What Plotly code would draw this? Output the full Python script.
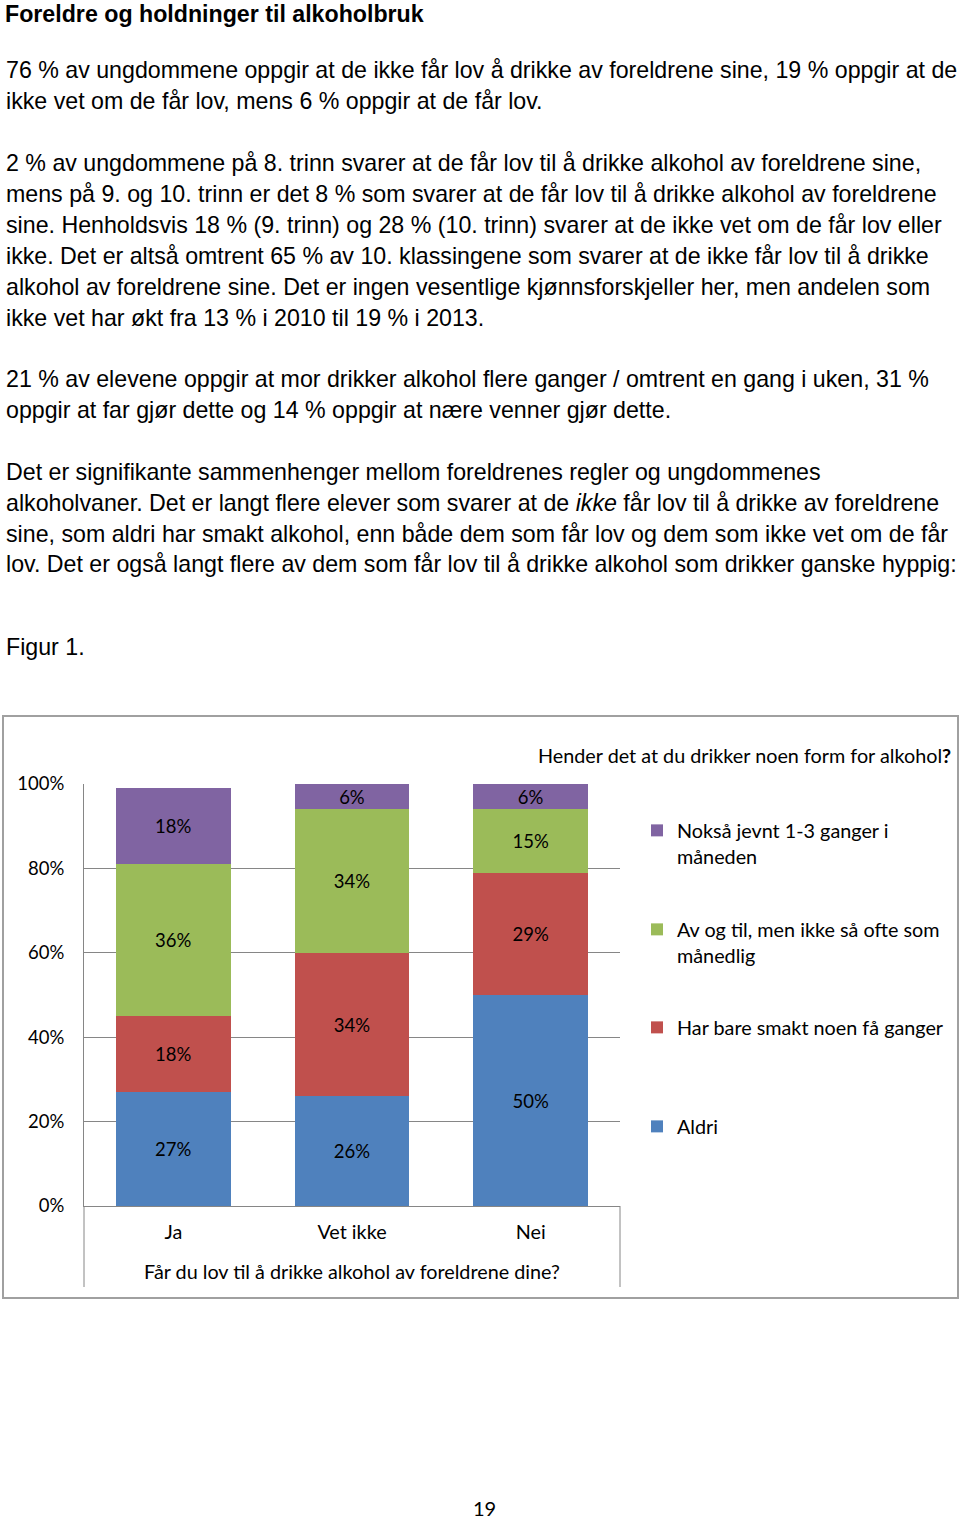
import plotly.graph_objects as go

W, H = 960, 1521

categories = ["Ja", "Vet ikke", "Nei"]
series_names = [
    "Aldri",
    "Har bare smakt noen få ganger",
    "Av og til, men ikke så ofte som<br>månedlig",
    "Nokså jevnt 1-3 ganger i<br>måneden",
]
aldri = [27, 26, 50]
har_bare = [18, 34, 29]
av_og_til = [36, 34, 15]
noksaa = [18, 6, 6]
series_values = [aldri, har_bare, av_og_til, noksaa]
colors = ["#4F81BD", "#C0504D", "#9BBB59", "#8064A2"]
y_ticks = [0, 0.2, 0.4, 0.6, 0.8, 1.0]

chart_title = "Hender det at du drikker noen form for alkohol<b>?</b>"
x_title = "Får du lov til å drikke alkohol av foreldrene dine?"

page_title = "Foreldre og holdninger til alkoholbruk"
body_lines = [
    (70, "76 % av ungdommene oppgir at de ikke får lov å drikke av foreldrene sine, 19 % oppgir at de"),
    (101, "ikke vet om de får lov, mens 6 % oppgir at de får lov."),
    (163, "2 % av ungdommene på 8. trinn svarer at de får lov til å drikke alkohol av foreldrene sine,"),
    (194, "mens på 9. og 10. trinn er det 8 % som svarer at de får lov til å drikke alkohol av foreldrene"),
    (225, "sine. Henholdsvis 18 % (9. trinn) og 28 % (10. trinn) svarer at de ikke vet om de får lov eller"),
    (256, "ikke. Det er altså omtrent 65 % av 10. klassingene som svarer at de ikke får lov til å drikke"),
    (287, "alkohol av foreldrene sine. Det er ingen vesentlige kjønnsforskjeller her, men andelen som"),
    (318, "ikke vet har økt fra 13 % i 2010 til 19 % i 2013."),
    (379, "21 % av elevene oppgir at mor drikker alkohol flere ganger / omtrent en gang i uken, 31 %"),
    (410, "oppgir at far gjør dette og 14 % oppgir at nære venner gjør dette."),
    (472, "Det er signifikante sammenhenger mellom foreldrenes regler og ungdommenes"),
    (503, "alkoholvaner. Det er langt flere elever som svarer at de <i>ikke</i> får lov til å drikke av foreldrene"),
    (534, "sine, som aldri har smakt alkohol, enn både dem som får lov og dem som ikke vet om de får"),
    (564, "lov. Det er også langt flere av dem som får lov til å drikke alkohol som drikker ganske hyppig:"),
    (647, "Figur 1."),
]
page_number = "19"


def px(x):
    return x / W


def py(y):
    return 1 - y / H


BODY_FONT = "Liberation Sans, Arial, sans-serif"
CHART_FONT = "Lato, Open Sans, sans-serif"
BODY_SIZE = 23.2
CHART_SIZE = 19.8
NUM_SIZE = 18.5

fig = go.Figure()
legend_names = ["legend4", "legend3", "legend2", "legend"]
for name, vals, col, lg in zip(series_names, series_values, colors, legend_names):
    fig.add_trace(go.Bar(
        x=categories,
        y=[v / 100 for v in vals],
        name=name,
        marker=dict(color=col, line=dict(width=0)),
        text=[f"{v}%" for v in vals],
        textposition="inside",
        insidetextanchor="middle",
        constraintext="none",
        textfont=dict(family=CHART_FONT, size=NUM_SIZE, color="#000000"),
        hoverinfo="skip",
        legend=lg,
    ))

plot_l, plot_r = 84, 620
y0px, y100px = 1206, 784

legend_common = dict(
    xanchor="left", yanchor="top", valign="top",
    font=dict(family=CHART_FONT, size=CHART_SIZE, color="#000000"),
    bgcolor="rgba(0,0,0,0)", borderwidth=0, tracegroupgap=0,
)
legend_tops = {"legend": 811, "legend2": 910, "legend3": 1008, "legend4": 1107}

layout_legends = {}
for lg, top in legend_tops.items():
    layout_legends[lg] = dict(x=px(637), y=py(top), **legend_common)

fig.update_layout(
    width=W, height=H, autosize=False,
    margin=dict(l=0, r=0, t=0, b=0, pad=0, autoexpand=False),
    paper_bgcolor="white", plot_bgcolor="white",
    barmode="stack", bargap=0.36,
    showlegend=True,
    **layout_legends,
    xaxis=dict(
        domain=[px(plot_l), px(plot_r)],
        showgrid=False, showline=True, linecolor="#868686", linewidth=1,
        ticks="", ticklabelstandoff=8,
        tickfont=dict(family=CHART_FONT, size=CHART_SIZE, color="#000000"),
        title=dict(text=x_title, font=dict(family=CHART_FONT, size=CHART_SIZE, color="#000000"), standoff=23),
        fixedrange=True, automargin=False,
    ),
    yaxis=dict(
        domain=[py(y0px), py(y100px)],
        range=[0, 1], tickvals=y_ticks, tickformat=".0%",
        showgrid=True, gridcolor="#868686", gridwidth=1,
        showline=True, linecolor="#868686", linewidth=1,
        zeroline=False, ticks="", ticklabelstandoff=15,
        tickfont=dict(family=CHART_FONT, size=NUM_SIZE, color="#000000"),
        fixedrange=True, automargin=False,
    ),
    shapes=[
        dict(type="rect", xref="paper", yref="paper",
             x0=px(3), x1=px(958), y0=py(1298), y1=py(716),
             line=dict(color="#A0A0A0", width=2), fillcolor="rgba(0,0,0,0)", layer="below"),
        dict(type="line", xref="paper", yref="paper",
             x0=px(plot_l), x1=px(plot_l), y0=py(1206), y1=py(1287),
             line=dict(color="#868686", width=1)),
        dict(type="line", xref="paper", yref="paper",
             x0=px(plot_r), x1=px(plot_r), y0=py(1206), y1=py(1287),
             line=dict(color="#868686", width=1)),
    ],
)

annotations = [
    dict(text=f"<b>{page_title}</b>", x=px(4), y=1, xref="paper", yref="paper",
         xanchor="left", yanchor="top", showarrow=False, borderpad=0,
         font=dict(family=BODY_FONT, size=BODY_SIZE, color="#000000")),
    dict(text=chart_title, x=px(536), y=py(755), xref="paper", yref="paper",
         xanchor="left", yanchor="middle", showarrow=False,
         font=dict(family=CHART_FONT, size=CHART_SIZE, color="#000000")),
    dict(text=page_number, x=px(484), y=0, xref="paper", yref="paper",
         xanchor="center", yanchor="bottom", showarrow=False, borderpad=0,
         font=dict(family=CHART_FONT, size=20, color="#000000")),
]
for y, line in body_lines:
    annotations.append(dict(text=line, x=px(4), y=py(y), xref="paper", yref="paper",
                            xanchor="left", yanchor="middle", showarrow=False,
                            font=dict(family=BODY_FONT, size=BODY_SIZE, color="#000000")))
fig.update_layout(annotations=annotations)

fig.write_html("out.html", config={"displayModeBar": False},
               post_script="document.body.style.margin='0';")
